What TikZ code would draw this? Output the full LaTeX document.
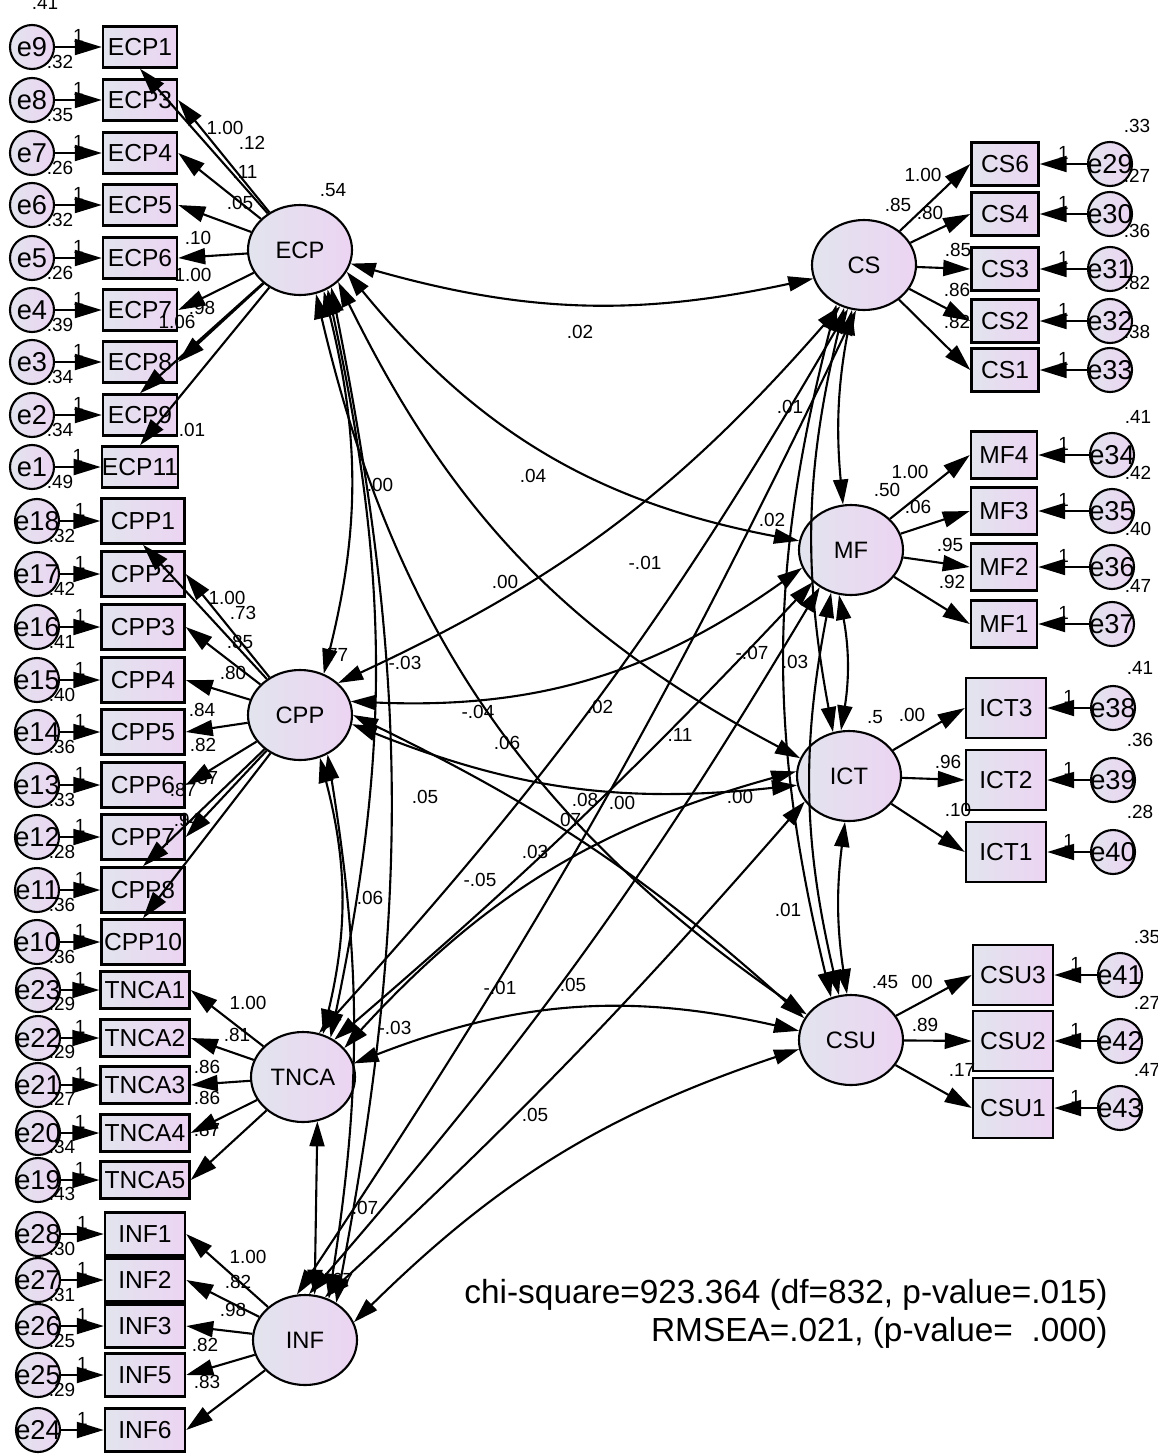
\documentclass[tikz,border=0pt]{standalone}
\usepackage{fontspec}
\setmainfont{Liberation Sans}
\usetikzlibrary{shapes.geometric,arrows.meta,positioning}
\definecolor{fillL}{RGB}{226,228,238}
\definecolor{fillR}{RGB}{236,212,242}

\begin{document}
\begin{tikzpicture}[
  x=0.2mm, y=-0.2mm,
  obs/.style={draw, line width=1.4pt, left color=fillL, right color=fillR, inner sep=0pt, font=\fontsize{14}{16}\selectfont},
  lat/.style={ellipse, draw, line width=1.2pt, left color=fillL, right color=fillR, minimum width=20.8mm, minimum height=18mm, inner sep=0pt, font=\fontsize{13.5}{16}\selectfont},
  err/.style={circle, draw, line width=1.2pt, left color=fillL, right color=fillR, minimum size=8.8mm, inner sep=0pt},
  etxt/.style={font=\fontsize{15.5}{16}\selectfont, inner sep=0pt},
  load/.style={-{Triangle[length=5.4mm,width=3.2mm]}, line width=1.2pt},
  cov/.style={{Triangle[length=5mm,width=3mm]}-{Triangle[length=5mm,width=3mm]}, line width=1.2pt},
  num/.style={font=\fontsize{10.8}{12}\selectfont, inner sep=0pt},
  fit/.style={font=\fontsize{19}{22}\selectfont, inner sep=0pt, anchor=east}
]
  \useasboundingbox (0,0) rectangle (1158,1455);

  % left indicators
  \foreach \b/\e/\y/\v in {ECP1/e9/47/.32, ECP3/e8/100/.35, ECP4/e7/153/.26, ECP5/e6/205/.32, ECP6/e5/258/.26, ECP7/e4/310/.39, ECP8/e3/362/.34, ECP9/e2/415/.34, ECP11/e1/467/.49}{
    \node[err, label={[etxt]center:\e}] (\e) at (32,\y) {};
    \node[obs, minimum width=14.8mm, minimum height=8.2mm] (\b) at (140,\y) {\b};
    \draw[load] (\e) -- (\b) node[num, midway, above=2pt] {1};
    \node[num] at (60,\y+15) {\v};
  }
  \node[num] at (45,3) {.41};
  \foreach \b/\e/\y/\v in {CPP1/e18/521/.32, CPP2/e17/574/.42, CPP3/e16/627/.41, CPP4/e15/680/.40, CPP5/e14/732/.36, CPP6/e13/785/.33, CPP7/e12/837/.28, CPP8/e11/890/.36, CPP10/e10/942/.36}{
    \node[err, label={[etxt]center:\e}] (\e) at (37,\y) {};
    \node[obs, minimum width=16.6mm, minimum height=9mm] (\b) at (143,\y) {\b};
    \draw[load] (\e) -- (\b) node[num, midway, above=2pt] {1};
    \node[num] at (62,\y+15) {\v};
  }
  \foreach \b/\e/\y/\v in {TNCA1/e23/990/.29, TNCA2/e22/1038/.29, TNCA3/e21/1085/.27, TNCA4/e20/1133/.34, TNCA5/e19/1180/.43}{
    \node[err, label={[etxt]center:\e}] (\e) at (38,\y) {};
    \node[obs, minimum width=17.8mm, minimum height=7.4mm] (\b) at (145,\y) {\b};
    \draw[load] (\e) -- (\b) node[num, midway, above=2pt] {1};
    \node[num] at (62,\y+14) {\v};
  }
  \foreach \b/\e/\y/\v in {INF1/e28/1234/.30, INF2/e27/1280/.31, INF3/e26/1326/.25, INF5/e25/1375/.29, INF6/e24/1430/{}}{
    \node[err, label={[etxt]center:\e}] (\e) at (38,\y) {};
    \node[obs, minimum width=16mm, minimum height=8.6mm] (\b) at (145,\y) {\b};
    \draw[load] (\e) -- (\b) node[num, midway, above=2pt] {1};
    \node[num] at (62,\y+15) {\v};
  }

  % right indicators
  \foreach \b/\e/\y/\v in {CS6/e29/164/.33, CS4/e30/214/.27, CS3/e31/269/.36, CS2/e32/321/.82, CS1/e33/370/.38}{
    \node[err, label={[etxt]center:\e}] (\e) at (1110,\y) {};
    \node[obs, minimum width=13.4mm, minimum height=8.6mm] (\b) at (1005,\y) {\b};
    \draw[load] (\e) -- (\b) node[num, midway, above=2pt] {1};
    \node[num] at (1137,\y-38) {\v};
  }
  \foreach \b/\e/\y/\v in {MF4/e34/455/.41, MF3/e35/511/.42, MF2/e36/567/.40, MF1/e37/624/.47}{
    \node[err, label={[etxt]center:\e}] (\e) at (1112,\y) {};
    \node[obs, minimum width=13.2mm, minimum height=9.4mm] (\b) at (1004,\y) {\b};
    \draw[load] (\e) -- (\b) node[num, midway, above=2pt] {1};
    \node[num] at (1138,\y-38) {\v};
  }
  \foreach \b/\e/\y/\v in {ICT3/e38/708/.41, ICT2/e39/780/.36, ICT1/e40/852/.28}{
    \node[err, label={[etxt]center:\e}] (\e) at (1113,\y) {};
    \node[obs, minimum width=16mm, minimum height=12mm] (\b) at (1006,\y) {\b};
    \draw[load] (\e) -- (\b) node[num, midway, above=2pt] {1};
    \node[num] at (1140,\y-40) {\v};
  }
  \foreach \b/\e/\y/\v in {CSU3/e41/975/.35, CSU2/e42/1041/.27, CSU1/e43/1108/.47}{
    \node[err, label={[etxt]center:\e}] (\e) at (1120,\y) {};
    \node[obs, minimum width=16mm, minimum height=12mm] (\b) at (1013,\y) {\b};
    \draw[load] (\e) -- (\b) node[num, midway, above=2pt] {1};
    \node[num] at (1147,\y-38) {\v};
  }

  % latent factors
  \node[lat] (ECP) at (300,250) {ECP};
  \node[lat] (CPP) at (300,715) {CPP};
  \node[lat] (TNCA) at (303,1077) {TNCA};
  \node[lat] (INF) at (305,1340) {INF};
  \node[lat] (CS) at (864,265) {CS};
  \node[lat] (MF) at (851,550) {MF};
  \node[lat] (ICT) at (849,776) {ICT};
  \node[lat] (CSU) at (851,1040) {CSU};

  % loadings
  \draw[load] (ECP) -- (ECP1.south);
  \foreach \b in {ECP3,ECP4,ECP5,ECP6,ECP7,ECP8} \draw[load] (ECP) -- (\b.east);
  \draw[load] (ECP) -- (ECP9.north);
  \draw[load] (ECP) -- (ECP11.north);
  \draw[load] (CPP) -- (CPP1.south);
  \foreach \b in {CPP2,CPP3,CPP4,CPP5,CPP6,CPP7} \draw[load] (CPP) -- (\b.east);
  \draw[load] (CPP) -- (CPP8.north);
  \draw[load] (CPP) -- (CPP10.north);
  \foreach \b in {TNCA1,TNCA2,TNCA3,TNCA4,TNCA5} \draw[load] (TNCA) -- (\b.east);
  \foreach \b in {INF1,INF2,INF3,INF5,INF6} \draw[load] (INF) -- (\b.east);
  \foreach \b in {CS6,CS4,CS3,CS2,CS1} \draw[load] (CS) -- (\b.west);
  \foreach \b in {MF4,MF3,MF2,MF1} \draw[load] (MF) -- (\b.west);
  \foreach \b in {ICT3,ICT2,ICT1} \draw[load] (ICT) -- (\b.west);
  \foreach \b in {CSU3,CSU2,CSU1} \draw[load] (CSU) -- (\b.west);

  % covariances, left group
  \draw[cov] (ECP.-60) to[bend left=14] (CPP.60);
  \draw[cov] (ECP.-55) to[bend left=12] (TNCA.55);
  \draw[cov] (ECP.-50) to[bend left=11] (INF.50);
  \draw[cov] (CPP.-65) to[bend left=14] (TNCA.65);
  \draw[cov] (CPP.-55) to[bend left=9] (INF.60);
  \draw[cov] (TNCA.-72) -- (INF.78);
  % left to right
  \draw[cov] (ECP.-15) to[bend right=14] (CS.-165);
  \draw[cov] (ECP.-25) to[bend right=20] (MF.170);
  \draw[cov] (ECP.-40) to[bend right=18] (ICT.160);
  \draw[cov] (ECP.-70) to[bend right=21] (CSU.150);
  \draw[cov] (CPP.40) to[bend right=12] (CS.-120);
  \draw[cov] (CPP.15) to[bend right=19] (MF.-160);
  \draw[cov] (CPP.-10) to[bend right=14] (ICT.-170);
  \draw[cov] (CPP.0) to[bend left=8] (CSU.155);
  \draw[cov] (TNCA.70) to[bend right=6] (CS.-110);
  \draw[cov] (TNCA.50) to[bend right=3] (MF.-140);
  \draw[cov] (TNCA.35) to[bend left=16] (ICT.175);
  \draw[cov] (TNCA.15) to[bend left=17] (CSU.170);
  \draw[cov] (INF.100) to[bend right=4] (CS.-100);
  \draw[cov] (INF.85) to[bend right=5] (MF.-130);
  \draw[cov] (INF.65) to[bend right=3] (ICT.-150);
  \draw[cov] (INF.20) to[bend left=13] (CSU.-170);
  % right group
  \draw[cov] (CS.-105) to[bend right=8] (MF.100);
  \draw[cov] (CS.-115) to[bend right=12] (ICT.110);
  \draw[cov] (CS.-125) to[bend right=14] (CSU.115);
  \draw[cov] (MF.-105) to[bend left=10] (ICT.100);
  \draw[cov] (MF.-115) to[bend right=12] (CSU.105);
  \draw[cov] (ICT.-95) to[bend right=8] (CSU.95);

  % loading and variance values, left
  \node[num] at (225,128) {1.00};  \node[num] at (252,143) {.12};
  \node[num] at (245,172) {.11};   \node[num] at (240,203) {.05};
  \node[num] at (198,238) {.10};   \node[num] at (193,275) {1.00};
  \node[num] at (202,308) {.98};   \node[num] at (177,322) {1.06};
  \node[num] at (192,430) {.01};   \node[num] at (333,190) {.54};
  \node[num] at (227,598) {1.00};  \node[num] at (243,613) {.73};
  \node[num] at (240,642) {.85};   \node[num] at (233,673) {.80};
  \node[num] at (202,710) {.84};   \node[num] at (203,745) {.82};
  \node[num] at (205,778) {.87};   \node[num] at (183,790) {.87};
  \node[num] at (187,820) {.94};   \node[num] at (335,655) {.77};
  \node[num] at (248,1003) {1.00}; \node[num] at (237,1035) {.81};
  \node[num] at (207,1067) {.86};  \node[num] at (207,1098) {.86};
  \node[num] at (207,1130) {.87};
  \node[num] at (248,1257) {1.00}; \node[num] at (238,1282) {.82};
  \node[num] at (233,1310) {.98};  \node[num] at (205,1345) {.82};
  \node[num] at (207,1382) {.83};  \node[num] at (340,1280) {.67};
  % loading and variance values, right
  \node[num] at (898,205) {.85};   \node[num] at (923,175) {1.00};
  \node[num] at (930,213) {.80};   \node[num] at (958,250) {.85};
  \node[num] at (957,290) {.86};   \node[num] at (957,322) {.82};
  \node[num] at (887,490) {.50};   \node[num] at (910,472) {1.00};
  \node[num] at (918,507) {.06};   \node[num] at (950,545) {.95};
  \node[num] at (952,582) {.92};
  \node[num] at (875,717) {.5};    \node[num] at (912,715) {.00};
  \node[num] at (948,762) {.96};   \node[num] at (958,810) {.10};
  \node[num] at (885,982) {.45};   \node[num] at (922,982) {00};
  \node[num] at (925,1025) {.89};  \node[num] at (962,1070) {.17};

  % covariance values
  \node[num] at (580,332) {.02};   \node[num] at (533,476) {.04};
  \node[num] at (505,582) {.00};   \node[num] at (380,485) {.00};
  \node[num] at (645,563) {-.01};  \node[num] at (405,663) {-.03};
  \node[num] at (478,712) {-.04};  \node[num] at (600,707) {.02};
  \node[num] at (507,743) {.06};   \node[num] at (680,735) {.11};
  \node[num] at (425,797) {.05};   \node[num] at (585,800) {.08};
  \node[num] at (622,803) {.00};   \node[num] at (740,797) {.00};
  \node[num] at (568,820) {.07};   \node[num] at (535,852) {.03};
  \node[num] at (480,880) {-.05};  \node[num] at (370,898) {.06};
  \node[num] at (500,988) {-.01};  \node[num] at (573,985) {.05};
  \node[num] at (395,1028) {-.03}; \node[num] at (365,1208) {.07};
  \node[num] at (535,1115) {.05};  \node[num] at (790,407) {.01};
  \node[num] at (772,520) {.02};   \node[num] at (752,653) {-.07};
  \node[num] at (795,662) {.03};   \node[num] at (788,910) {.01};

  % fit indices
  \node[fit] (chi) at (1108,1295) {chi-square=923.364 (df=832, p-value=.015)};
  \node[fit] (rmsea) at (1108,1333) {RMSEA=.021, (p-value=\ \ .000)};
\end{tikzpicture}
\end{document}
